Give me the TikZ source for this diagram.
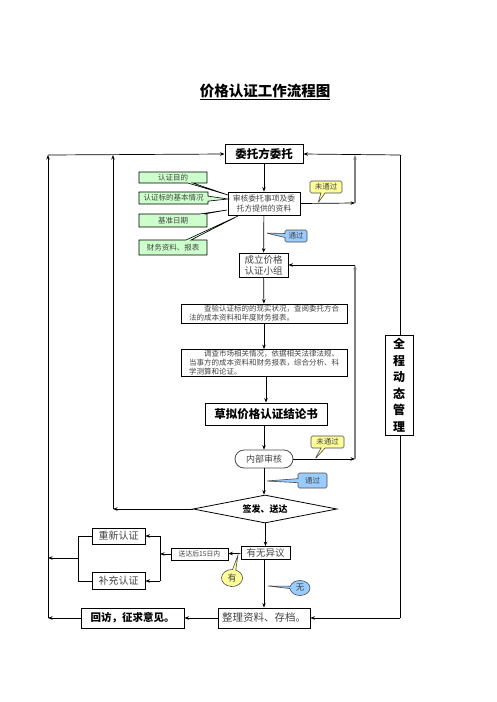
\documentclass[tikz,border=0pt]{standalone}
\usepackage{fontspec}
\setmainfont{Noto Sans CJK SC}
\usetikzlibrary{arrows.meta,shapes.geometric,shapes.callouts}
\definecolor{cgreen}{HTML}{CCFFCC}
\definecolor{cyellow}{HTML}{FFFF99}
\definecolor{cblue}{HTML}{99CCFF}
\definecolor{ctext}{HTML}{444444}
\tikzset{
  box/.style={draw=black, line width=0.8pt, fill=white, inner sep=1pt, align=center, text=ctext},
  boldbox/.style={draw=black, line width=1pt, fill=white, inner sep=1pt, align=center, font=\bfseries},
  gcall/.style={rectangle callout, draw=black, line width=0.6pt, fill=cgreen, inner sep=0pt, font=\fontsize{7.5}{9}\selectfont, text=ctext, callout pointer width=5pt},
  ycall/.style={rectangle callout, draw=black!70, line width=0.6pt, fill=cyellow, rounded corners=1.5pt, inner sep=0pt, font=\fontsize{7.5}{9}\selectfont, text=ctext, callout pointer width=4pt},
  bcall/.style={rectangle callout, draw=black!70, line width=0.6pt, fill=cblue, rounded corners=1.5pt, inner sep=0pt, font=\fontsize{7.5}{9}\selectfont, text=ctext, callout pointer width=4pt},
  arr/.style={-{Stealth[length=4.5pt,width=3.5pt]}, line width=0.7pt},
  garr/.style={-{Stealth[length=4.5pt,width=3.5pt]}, line width=1.2pt, draw=black!50},
  ln/.style={line width=0.7pt}
}
\begin{document}
\begin{tikzpicture}[x=1pt,y=-1pt]
\useasboundingbox[fill=white] (0,0) rectangle (496,702);
% title
\node[font=\fontsize{14.5}{16}\selectfont\bfseries] (title) at (265,92) {\underline{价格认证工作流程图}};
% main nodes
\node[boldbox, minimum width=78pt, minimum height=19pt, font=\fontsize{11.5}{13}\selectfont\bfseries] (n1) at (264,154) {委托方委托};
\node[box, minimum width=72pt, minimum height=23pt, font=\fontsize{7.8}{9.5}\selectfont] (n2) at (264,203.5) {审核委托事项及委\\托方提供的资料};
\node[box, minimum width=49pt, minimum height=24pt, font=\fontsize{9.5}{11}\selectfont] (n3) at (263.5,265) {成立价格\\认证小组};
\node[box, minimum width=166pt, minimum height=19pt, align=left, font=\fontsize{7.5}{9}\selectfont] (n4) at (264,313.5) {\hspace*{15pt}查验认证标的的现实状况，查阅委托方合\\法的成本资料和年度财务报表。};
\node[box, minimum width=166pt, minimum height=26pt, align=left, font=\fontsize{7.5}{9}\selectfont] (n5) at (264,363) {\hspace*{15pt}调查市场相关情况，依据相关法律法规、\\当事方的成本资料和财务报表，综合分析、科\\学测算和论证。};
\node[boldbox, minimum width=122pt, minimum height=22pt, font=\fontsize{11.5}{13}\selectfont\bfseries] (n6) at (266,414) {草拟价格认证结论书};
\node[box, draw=black!70, rounded corners=9pt, minimum width=58pt, minimum height=18pt, font=\fontsize{9}{10}\selectfont] (n7) at (264,459) {内部审核};
\node[draw=black, line width=0.8pt, fill=white, diamond, aspect=5, inner sep=0pt, minimum width=144pt, minimum height=28pt, font=\fontsize{9}{10}\selectfont\bfseries] (n8) at (265,509) {签发、送达};
\node[box, minimum width=49pt, minimum height=13pt, font=\fontsize{9.5}{10}\selectfont] (n9) at (265.5,553) {有无异议};
\node[box, minimum width=57pt, minimum height=12pt, font=\fontsize{6.8}{8}\selectfont] (n10) at (199.5,554) {送达后15日内};
\node[box, minimum width=53pt, minimum height=16pt, font=\fontsize{10}{11}\selectfont] (n11) at (118.5,536) {重新认证};
\node[box, minimum width=53pt, minimum height=17pt, font=\fontsize{10}{11}\selectfont] (n12) at (118.5,581) {补充认证};
\node[box, minimum width=92pt, minimum height=20pt, font=\fontsize{10.5}{12}\selectfont] (n13) at (264,618) {整理资料、存档。};
\node[boldbox, minimum width=103pt, minimum height=20pt, font=\fontsize{10.5}{12}\selectfont\bfseries] (n14) at (132.5,618) {回访，征求意见。};
\node[boldbox, minimum width=28pt, minimum height=100pt, font=\fontsize{12}{16.5}\selectfont\bfseries] (n15) at (399,385) {全\\程\\动\\态\\管\\理};
% coordinates
\coordinate (L1b) at (48,618);
\coordinate (L1m) at (48,558);
\coordinate (L1t) at (48,155);
\coordinate (L2b) at (113,509);
\coordinate (L2t) at (113,155);
\coordinate (R1t) at (400,155);
\coordinate (R1b) at (400,618);
\coordinate (M1a) at (355,203);
\coordinate (M1t) at (355,155);
\coordinate (M2a) at (355,459);
\coordinate (M2t) at (355,265);
\coordinate (B1) at (160,554);
\coordinate (B1t) at (160,536);
\coordinate (B1b) at (160,581);
\coordinate (B2) at (78,558);
\coordinate (B2t) at (78,536);
\coordinate (B2b) at (78,581);
% connectors
\draw[arr] (n1) -- (n2);
\draw[arr] (n2) -- (n3);
\draw[arr] (n3) -- (n4);
\draw[arr] (n4) -- (n5);
\draw[arr] (n5.south -| n6.north) -- (n6);
\draw[arr] (n6.south -| n7.north) -- (n7);
\draw[arr] (n7) -- (n8.north -| n7.south);
\draw[arr] (n8.south -| n9.north) -- (n9);
\draw[arr] (n9) -- (n10);
\draw[arr] (n9.south -| n13.north) -- (n13);
\draw[arr] (n13) -- (n14);
\draw[arr] (n2.east) -- (M1a);
\draw[garr] (M1a) -- (M1t);
\draw[arr] (n7.east) -- (M2a);
\draw[garr] (M2a) -- (M2t);
\draw[arr] (M2t) -- (n3.east);
\draw[arr] (R1t) -- (n1.east);
\draw[ln] (R1t) -- (n15.north -| R1t);
\draw[ln] (n15.south -| R1b) -- (R1b);
\draw[arr] (R1b) -- (n13.east);
\draw[arr] (L1t) -- (n1.west);
\draw[arr] (L1b) -- (L1t);
\draw[arr] (L2b) -- (L2t);
\draw[arr] (n8.west) -- (L2b);
\draw[arr] (n14.west) -- (L1b);
\draw[arr] (n10.west) -- (B1);
\draw[ln] (B1t) -- (B1b);
\draw[arr] (B1t) -- (n11.east);
\draw[arr] (B1b) -- (n12.east);
\draw[ln] (n11.west) -- (B2t) -- (B2b) -- (n12.west);
\draw[arr] (B2) -- (L1m);
% callouts
\node[gcall, minimum width=68pt, minimum height=11pt, callout absolute pointer={(228,195)}] (c1) at (173,177.5) {认证目的};
\node[gcall, minimum width=69pt, minimum height=12pt, callout absolute pointer={(228,199)}] (c2) at (173.5,198) {认证标的基本情况};
\node[gcall, minimum width=68pt, minimum height=13pt, callout absolute pointer={(227,210)}] (c3) at (173,220.5) {基准日期};
\node[gcall, minimum width=68pt, minimum height=15pt, callout absolute pointer={(238,216)}] (c4) at (173,247.5) {财务资料、报表};
\node[ycall, minimum width=32pt, minimum height=12pt, callout absolute pointer={(318,203)}] (y1) at (326,187) {未通过};
\node[bcall, minimum width=22pt, minimum height=12pt, callout absolute pointer={(266,233)}] (b1) at (296,236) {通过};
\node[ycall, minimum width=33pt, minimum height=12pt, callout absolute pointer={(315,459)}] (y2) at (327.5,442) {未通过};
\node[bcall, minimum width=29pt, minimum height=15pt, callout absolute pointer={(266,481)}] (b2) at (312.5,480.5) {通过};
\node[ellipse callout, draw=black!70, line width=0.6pt, fill=cyellow, inner sep=0pt, minimum width=21pt, minimum height=17pt, font=\fontsize{9}{10}\selectfont, text=ctext, callout pointer arc=18, callout absolute pointer={(238,555)}] (e1) at (232,578) {有};
\node[ellipse callout, draw=black!70, line width=0.6pt, fill=cblue, inner sep=0pt, minimum width=20pt, minimum height=15pt, font=\fontsize{8.5}{10}\selectfont, text=ctext, callout pointer arc=18, callout absolute pointer={(268,586)}] (e2) at (300,588) {无};
\end{tikzpicture}
\end{document}
